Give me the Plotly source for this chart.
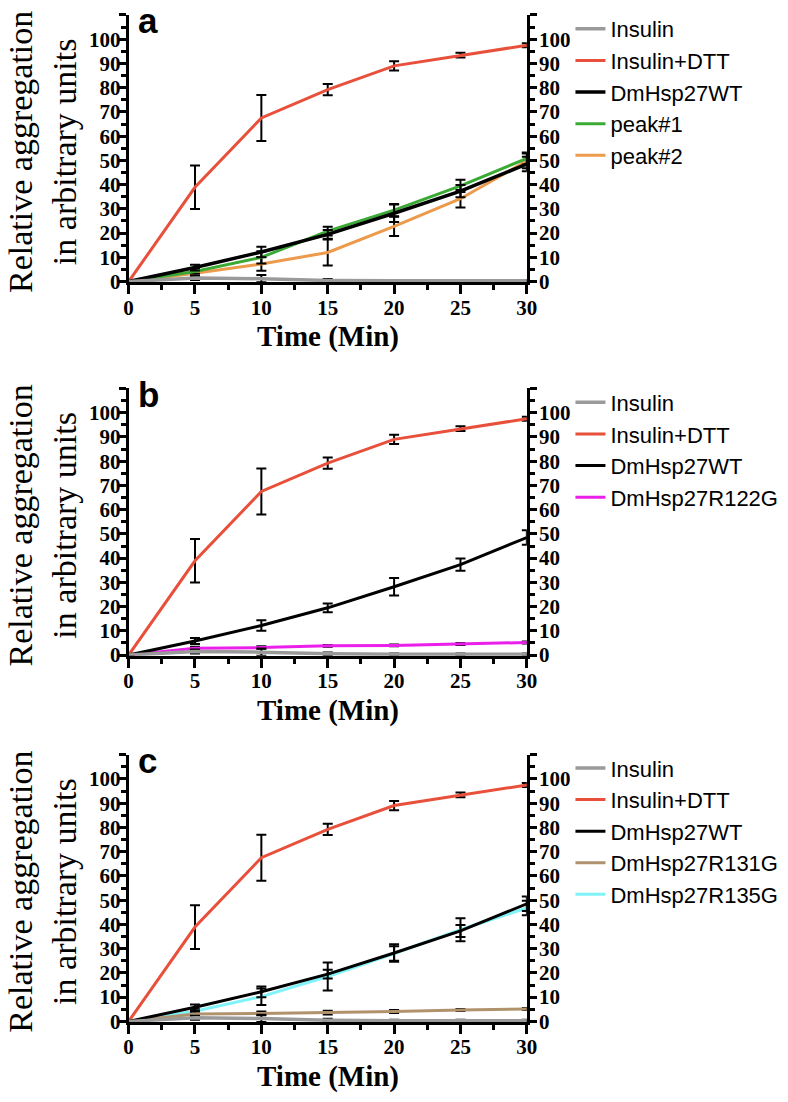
import plotly.graph_objects as go

# ---------------- data ----------------
time_min = [0, 5, 10, 15, 20, 25, 30]

insulin = [0, 1.5, 1.2, 0.5, 0.3, 0.3, 0.3]
insulin_err = [0, 0.8, 1.5, 0.6, 0.4, 0.4, 0.4]

insulin_dtt = [0, 38.9, 67.5, 79.2, 89.0, 93.4, 97.5]
insulin_dtt_err = [0, 9.0, 9.5, 2.3, 1.9, 1.0, 0.8]

wt = [0, 5.8, 12.2, 19.5, 28.2, 37.3, 48.5]
wt_err = [0, 1.2, 2.2, 1.8, 3.6, 2.5, 3.0]

peak1 = [0, 4.2, 10.0, 20.8, 29.5, 39.5, 50.8]
peak1_err = [0, 1.0, 2.5, 1.8, 2.5, 2.5, 2.5]

peak2 = [0, 3.4, 7.3, 12.0, 22.8, 34.2, 49.8]
peak2_err = [0, 1.0, 2.8, 5.4, 4.0, 3.6, 3.0]

r122g = [0, 2.8, 3.1, 3.8, 4.0, 4.6, 5.2]
r122g_err = [0, 0.6, 0.5, 0.4, 0.4, 0.4, 0.4]

r131g = [0, 3.0, 3.3, 3.6, 4.1, 4.7, 5.1]
r131g_err = [0, 1.0, 0.8, 0.8, 0.6, 0.4, 0.4]

r135g = [0, 4.2, 10.2, 18.5, 28.0, 37.8, 46.8]
r135g_err = [0, 1.0, 3.4, 5.8, 3.0, 4.7, 3.0]

y_ticks = [0, 10, 20, 30, 40, 50, 60, 70, 80, 90, 100, 110]
y_ticklabels = ["0", "10", "20", "30", "40", "50", "60", "70", "80", "90", "100", ""]
x_ticks = [0, 5, 10, 15, 20, 25, 30]

panel_letters = ["a", "b", "c"]

# ---------------- styling ----------------
W, H = 788, 1102
C_GRAY = "#9a9a9a"
C_RED = "#e8503b"
C_BLACK = "#000000"
C_GREEN = "#3aaa35"
C_ORANGE = "#ec9a4b"
C_MAGENTA = "#ea1fea"
C_TAN = "#b0936c"
C_CYAN = "#80f3f8"

SERIF = "Liberation Serif, Times New Roman, serif"
SANS = "Liberation Sans, Arial, sans-serif"


def px_x(p):
    return p / W


def px_y(p):
    return 1 - p / H


# panel geometry in pixels: (y pixel of value 0, y pixel of value 110, legend first row y)
panels = [(274.3, 3.0, 23), (653.3, 382.0, 402), (1025.0, 753.6, 773)]
x_dom = [px_x(118), px_x(524.5)]

fig = go.Figure()

series_sets = [
    [  # panel a: (name, y, err, color, width, rank)
        ("peak#2", peak2, peak2_err, C_ORANGE, 3, 5),
        ("peak#1", peak1, peak1_err, C_GREEN, 3, 4),
        ("Insulin+DTT", insulin_dtt, insulin_dtt_err, C_RED, 3, 2),
        ("DmHsp27WT", wt, wt_err, C_BLACK, 3.5, 3),
        ("Insulin", insulin, insulin_err, C_GRAY, 3.5, 1),
    ],
    [
        ("DmHsp27R122G", r122g, r122g_err, C_MAGENTA, 3, 4),
        ("Insulin+DTT", insulin_dtt, insulin_dtt_err, C_RED, 3, 2),
        ("DmHsp27WT", wt, wt_err, C_BLACK, 3, 3),
        ("Insulin", insulin, insulin_err, C_GRAY, 3.5, 1),
    ],
    [
        ("DmHsp27R135G", r135g, r135g_err, C_CYAN, 3, 5),
        ("DmHsp27R131G", r131g, r131g_err, C_TAN, 3, 4),
        ("Insulin+DTT", insulin_dtt, insulin_dtt_err, C_RED, 3, 2),
        ("DmHsp27WT", wt, wt_err, C_BLACK, 3, 3),
        ("Insulin", insulin, insulin_err, C_GRAY, 3.5, 1),
    ],
]

layout = dict(
    width=W,
    height=H,
    margin=dict(l=0, r=0, t=0, b=0),
    paper_bgcolor="white",
    plot_bgcolor="white",
    showlegend=True,
    annotations=[],
)

for i, (y0p, y1p, leg_row) in enumerate(panels):
    n = i + 1
    xname = "x" if n == 1 else f"x{n}"
    yname = "y" if n == 1 else f"y{n}"
    yrname = f"y{n + 3}"
    legname = "legend" if n == 1 else f"legend{n}"
    ydom = [px_y(y0p), px_y(y1p)]

    for name, ys, errs, color, lw, rank in series_sets[i]:
        fig.add_trace(go.Scatter(
            x=time_min, y=ys, name=name, mode="lines",
            line=dict(color=color, width=lw),
            error_y=dict(type="data", array=errs, visible=True,
                         color="black", thickness=2, width=5),
            xaxis=xname, yaxis=yname, legend=legname, legendrank=rank,
            cliponaxis=False,
        ))
    # empty trace so right axis is drawn
    fig.add_trace(go.Scatter(x=[None], y=[None], xaxis=xname, yaxis=yrname,
                             showlegend=False, hoverinfo="skip"))

    common_y = dict(
        range=[-0.3, 110], domain=ydom, tickmode="array",
        tickvals=y_ticks, ticktext=y_ticklabels,
        ticks="outside", ticklen=7, tickwidth=2.5, tickcolor="black",
        showline=True, linewidth=3, linecolor="black",
        showgrid=False, zeroline=False,
        tickfont=dict(family=SERIF, size=21, color="black", weight="bold"),
        minor=dict(dtick=5, tick0=0, ticks="outside", ticklen=5,
                   tickwidth=2.5, tickcolor="black", showgrid=False),
        fixedrange=True,
    )
    xkey = "xaxis" if n == 1 else f"xaxis{n}"
    ykey = "yaxis" if n == 1 else f"yaxis{n}"
    yrkey = f"yaxis{n + 3}"
    layout[xkey] = dict(
        range=[0, 30], domain=x_dom, anchor=yname,
        tickmode="array", tickvals=x_ticks,
        ticks="outside", ticklen=9, tickwidth=3, tickcolor="black",
        showline=True, linewidth=3, linecolor="black",
        showgrid=False, zeroline=False,
        tickfont=dict(family=SERIF, size=21, color="black", weight="bold"),
        ticklabelstandoff=-5,
        minor=dict(dtick=2.5, tick0=0, ticks="outside", ticklen=5,
                   tickwidth=3, tickcolor="black", showgrid=False),
        fixedrange=True,
    )
    layout[ykey] = dict(common_y, anchor=xname, side="left",
                        ticklabelstandoff=-6)
    layout[yrkey] = dict(common_y, anchor=xname, side="right",
                         overlaying=yname, ticklabelstandoff=-2)

    layout[legname] = dict(
        x=px_x(569), y=px_y(leg_row - 27), xanchor="left", yanchor="top",
        bgcolor="rgba(0,0,0,0)", borderwidth=0,
        font=dict(family=SANS, size=22, color="black"),
        traceorder="normal",
    )

    # y-axis title
    layout["annotations"].append(dict(
        text="Relative aggregation<br>in arbitrary units",
        xref="paper", yref="paper", x=px_x(30),
        y=px_y((y0p + y1p) / 2 + 3),
        xanchor="center", yanchor="middle", textangle=-90, showarrow=False,
        font=dict(family=SERIF, size=34, color="black"),
    ))
    # x-axis title
    layout["annotations"].append(dict(
        text="<b>Time (Min)</b>",
        xref="paper", yref="paper", x=px_x(322), y=px_y(y0p + 55),
        xanchor="center", yanchor="middle", showarrow=False,
        font=dict(family=SERIF, size=29, color="black"),
    ))
    # panel letter
    layout["annotations"].append(dict(
        text=f"<b>{panel_letters[i]}</b>",
        xref="paper", yref="paper", x=px_x(126), y=px_y(y1p + 6),
        xanchor="left", yanchor="middle", showarrow=False,
        font=dict(family=SANS, size=35, color="black"),
    ))

fig.update_layout(**layout)
fig.write_html("out.html")
